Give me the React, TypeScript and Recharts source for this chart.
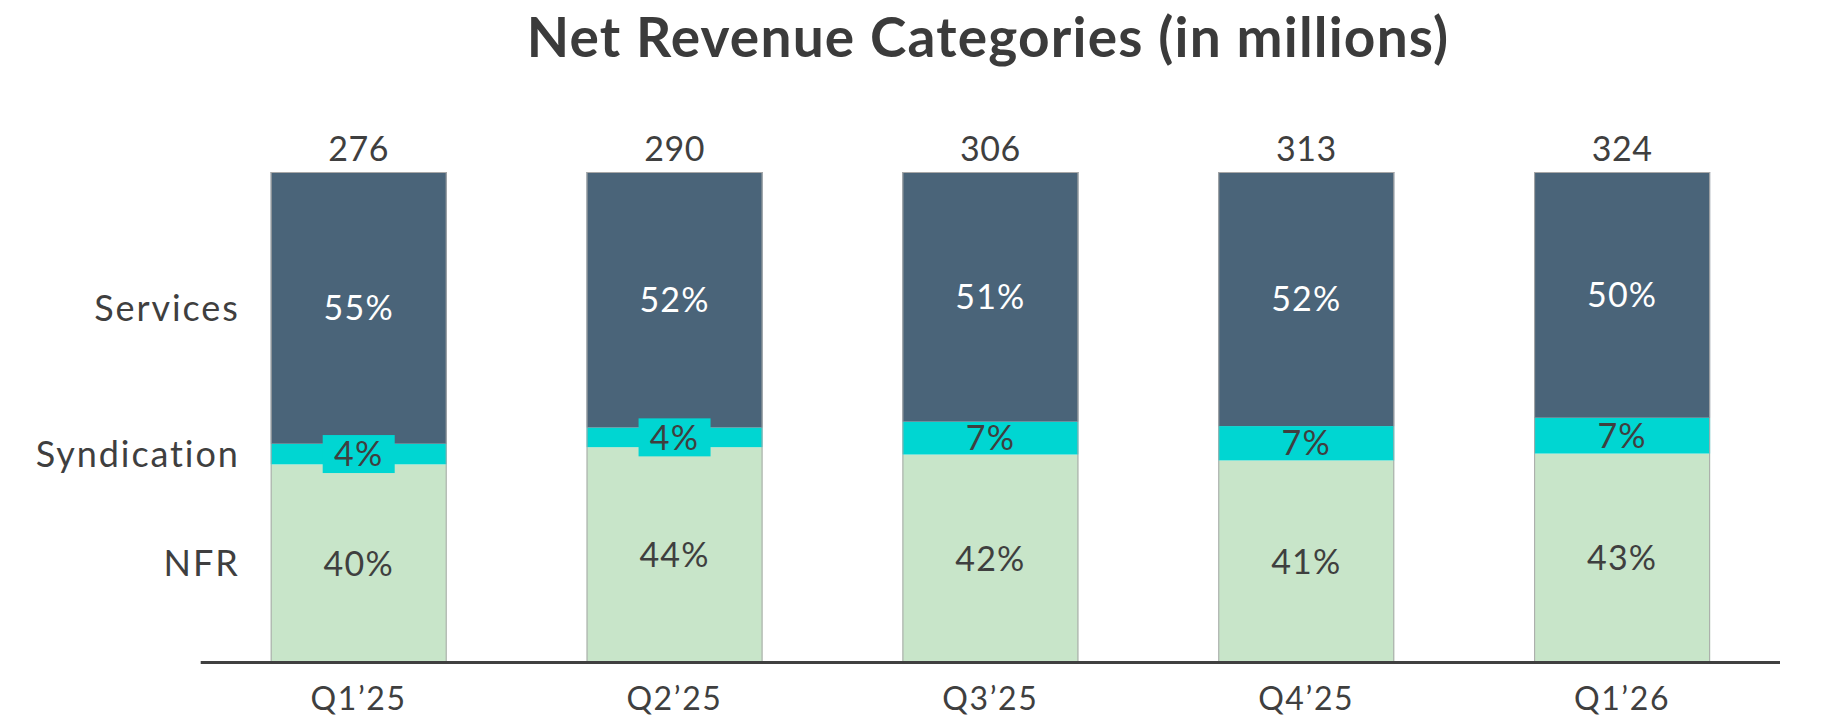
import React from 'react';
import { BarChart, Bar, XAxis, YAxis, LabelList } from 'recharts';

const quarters = ['Q1’25', 'Q2’25', 'Q3’25', 'Q4’25', 'Q1’26'];
const totals = [276, 290, 306, 313, 324];
const nfrShare = [40.4, 43.9, 42.4, 41.2, 42.6];
const syndicationShare = [4.2, 4.0, 6.7, 7.0, 7.3];
const servicesShare = [55.4, 52.1, 50.9, 51.8, 50.1];
const seriesNames = { nfr: 'NFR', syndication: 'Syndication', services: 'Services' };
const title = 'Net Revenue Categories (in millions)';

const data = quarters.map((q, i) => ({
  quarter: q,
  nfr: nfrShare[i],
  syndication: syndicationShare[i],
  services: servicesShare[i],
  total: totals[i],
}));

const FONT = 'Lato, "Noto Sans", sans-serif';
const TEXT = '#3f3f3f';
const COLORS = { services: '#4a6479', syndication: '#00d6d2', nfr: '#c8e5c9' };
const EDGE = '#a8a8a8';

const makeShape = (isTop: boolean) => (p: any) => {
  const { x, y, width, height, fill } = p;
  if (width == null || height == null) return null;
  return (
    <g>
      <rect x={x} y={y} width={width} height={height} fill={fill} />
      <line x1={x + 0.5} x2={x + 0.5} y1={y} y2={y + height} stroke={EDGE} strokeWidth={1} />
      <line x1={x + width - 0.5} x2={x + width - 0.5} y1={y} y2={y + height} stroke={EDGE} strokeWidth={1} />
      {isTop && <line x1={x} x2={x + width} y1={y + 0.5} y2={y + 0.5} stroke={EDGE} strokeWidth={1} />}
    </g>
  );
};

const makeLabel = (key: 'nfr' | 'syndication' | 'services', color: string, boxFill?: string) => (p: any) => {
  const { x, y, width, height, value, index } = p;
  const cx = x + width / 2;
  const cy = y + height / 2;
  const fs = 34;
  const base = cy + fs * 0.36;
  const small = boxFill && height < 26;
  return (
    <g>
      {small && <rect x={cx - 36} y={cy - 19} width={72} height={38} fill={boxFill} />}
      <text x={cx} y={base} textAnchor="middle" fontFamily={FONT} fontSize={fs} letterSpacing={1.2} fill={color}>
        {Math.round(Number(value))}%
      </text>
      {index === 0 && (
        <text x={x - 31} y={cy + 36 * 0.36} textAnchor="end" fontFamily={FONT} fontSize={36} letterSpacing={1.9} fill={TEXT}>
          {seriesNames[key]}
        </text>
      )}
    </g>
  );
};

const TotalLabel = (p: any) => {
  const { x, y, width, value } = p;
  return (
    <text x={x + width / 2} y={y - 11} textAnchor="middle" fontFamily={FONT} fontSize={34} letterSpacing={0.5} fill={TEXT}>
      {value}
    </text>
  );
};

export default function App() {
  return (
    <div style={{ position: 'absolute', left: 0, top: 0, width: 1838, height: 716, background: '#fff' }}>
      <svg width={1838} height={90} style={{ position: 'absolute', left: 0, top: 0 }}>
        <text x={988} y={56.7} textAnchor="middle" fontFamily={FONT} fontWeight={700} fontSize={55} letterSpacing={1.2} fill="#3b3b3b">
          {title}
        </text>
      </svg>
      <div style={{ position: 'absolute', left: 0, top: 0 }}>
        <BarChart
          width={1838}
          height={716}
          data={data}
          margin={{ top: 172, right: 58, left: 200.7, bottom: 23.5 }}
          barSize={176}
        >
          <YAxis hide domain={[0, 100]} type="number" />
          <XAxis
            dataKey="quarter"
            height={30}
            axisLine={{ stroke: '#404040', strokeWidth: 3 }}
            tickLine={false}
            tickMargin={19}
            tick={{ fontFamily: FONT, fontSize: 32, fill: TEXT, letterSpacing: 1.6 }}
            interval={0}
          />
          <Bar dataKey="nfr" stackId="a" fill={COLORS.nfr} isAnimationActive={false} shape={makeShape(false)}>
            <LabelList dataKey="nfr" content={makeLabel('nfr', TEXT)} />
          </Bar>
          <Bar dataKey="syndication" stackId="a" fill={COLORS.syndication} isAnimationActive={false} shape={makeShape(false)}>
            <LabelList dataKey="syndication" content={makeLabel('syndication', TEXT, COLORS.syndication)} />
          </Bar>
          <Bar dataKey="services" stackId="a" fill={COLORS.services} isAnimationActive={false} shape={makeShape(true)}>
            <LabelList dataKey="services" content={makeLabel('services', '#ffffff')} />
            <LabelList dataKey="total" content={TotalLabel} />
          </Bar>
        </BarChart>
      </div>
    </div>
  );
}
